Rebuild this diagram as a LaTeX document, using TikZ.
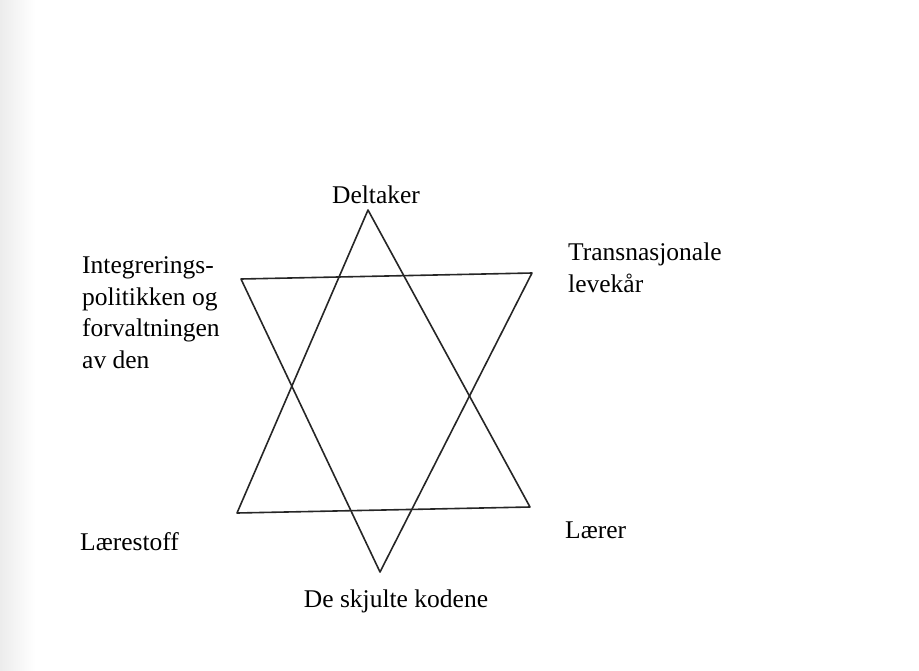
\documentclass[tikz,border=0pt]{standalone}
\usepackage{tkz-euclide}
\usepackage{fontspec}
\setmainfont{Liberation Serif}
\newfontfamily\lblfont{Liberation Serif}

\begin{document}
\begin{tikzpicture}[x=1pt,y=-1pt]
\tkzSetUpLine[line width=1.6pt,color=black!85]

\useasboundingbox (0,0) rectangle (919,670);
\fill[left color=gray!15,right color=white] (0,0) rectangle (35,670);

% The two triangles of the star.
\tkzDefPoints{368/210/U,237/513/V,530/507/W}
\tkzDefPoints{241/279/P,532/273/Q,380/572/R}

% Where the texts sit (last baseline of each text).
\tkzDefPoints{376/203/Ltop,396/607/Lbot}
\tkzDefPoints{82/368/Lpol,568/292/Ltra}
\tkzDefPoints{80/550/Lsto,565/538/Llae}

\tkzDrawPolygon[line width=1.6pt,color=black!85](U,V,W)
\tkzDrawPolygon[line width=1.6pt,color=black!85](P,Q,R)

\tikzset{lbl/.style={inner sep=0pt,font=\lblfont\fontsize{25.5}{31.5}\selectfont,align=left}}

\tkzLabelPoint[lbl,anchor=base](Ltop){Deltaker}
\tkzLabelPoint[lbl,anchor=base](Lbot){De skjulte kodene}
\tkzLabelPoint[lbl,anchor=base west](Lpol){Integrerings-\\politikken og\\forvaltningen\\av den}
\tkzLabelPoint[lbl,anchor=base west](Ltra){Transnasjonale\\levekår}
\tkzLabelPoint[lbl,anchor=base west](Lsto){Lærestoff}
\tkzLabelPoint[lbl,anchor=base west](Llae){Lærer}

\end{tikzpicture}
\end{document}
